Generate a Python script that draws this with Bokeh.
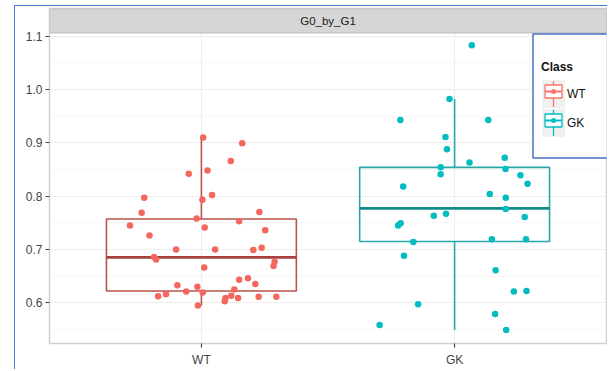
from bokeh.plotting import figure
from bokeh.models import Range1d, FixedTicker, PrintfTickFormatter
from bokeh.core.properties import value
from bokeh.embed import file_html
from bokeh.resources import INLINE

# ---------------- data ----------------
classes = ["WT", "GK"]
panel_title = "G0_by_G1"
legend_title = "Class"

wt_values = [0.910, 0.899, 0.866, 0.842, 0.848, 0.797, 0.802, 0.793, 0.769, 0.770,
             0.758, 0.753, 0.745, 0.741, 0.736, 0.726, 0.700, 0.700, 0.699, 0.703,
             0.686, 0.681, 0.677, 0.669, 0.666, 0.643, 0.646, 0.635, 0.633, 0.630,
             0.625, 0.621, 0.619, 0.616, 0.612, 0.613, 0.609, 0.603, 0.609, 0.611,
             0.611, 0.595]
wt_jitter = [0.007, 0.161, 0.116, -0.050, 0.024, -0.226, 0.042, 0.004, -0.236, 0.229,
             -0.019, 0.149, -0.282, 0.013, 0.252, -0.205, -0.100, 0.054, 0.205, 0.238,
             -0.187, -0.179, 0.289, 0.285, 0.011, 0.149, 0.184, 0.213, -0.095, -0.016,
             0.130, -0.060, 0.005, -0.140, -0.171, 0.118, 0.095, 0.092, 0.145, 0.226,
             0.296, -0.014]

gk_values = [1.083, 0.982, 0.943, 0.943, 0.911, 0.888, 0.872, 0.863, 0.854, 0.841,
             0.851, 0.839, 0.823, 0.818, 0.804, 0.797, 0.776, 0.767, 0.763, 0.761,
             0.749, 0.745, 0.714, 0.719, 0.719, 0.688, 0.661, 0.621, 0.622, 0.597,
             0.579, 0.558, 0.549]
gk_jitter = [0.068, -0.020, -0.214, 0.133, -0.036, -0.030, 0.198, 0.059, -0.055, -0.055,
             0.201, 0.260, 0.288, -0.203, 0.139, 0.202, 0.202, -0.034, -0.082, 0.277,
             -0.213, -0.223, -0.163, 0.147, 0.282, -0.200, 0.162, 0.234, 0.284, -0.144,
             0.160, -0.296, 0.204]

box_lower = [0.595, 0.549]
box_q1 = [0.622, 0.715]
box_median = [0.685, 0.777]
box_q3 = [0.757, 0.854]
box_upper = [0.910, 0.982]

y_ticks = [0.6, 0.7, 0.8, 0.9, 1.0, 1.1]
y_minor = [0.55, 0.65, 0.75, 0.85, 0.95, 1.05]

# ---------------- style ----------------
FONT = "Liberation Sans"
point_colors = {"WT": "#F4675F", "GK": "#05BCC1"}
key_colors = {"WT": "#F8766D", "GK": "#00BFC4"}
box_colors = {"WT": "#B8534E", "GK": "#2AA7A8"}
median_colors = {"WT": "#A8423E", "GK": "#118A8B"}
FRAME_BLUE = "#4A7CC9"

# canvas origin on the page (after css margin + border)
OX, OY = 15.5, 6.5
W, H = 593, 364
X_LO, X_HI = 0.4, 2.6
Y_BOT, Y_PANEL_TOP, Y_TOP = 0.5235, 1.1065, 1.152
FRAME_L, FRAME_T, FRAME_W, FRAME_H = 34, 2, 557, 335

p = figure(width=W, height=H, output_backend="svg", toolbar_location=None,
           x_range=Range1d(X_LO, X_HI), y_range=Range1d(Y_BOT, Y_TOP),
           min_border_left=FRAME_L, min_border_right=W - FRAME_L - FRAME_W,
           min_border_top=FRAME_T, min_border_bottom=H - FRAME_T - FRAME_H)
p.styles = {"margin-left": "14px", "margin-top": "5px",
            "border-left": "1.5px solid " + FRAME_BLUE,
            "border-top": "1.5px solid " + FRAME_BLUE}
p.background_fill_color = "white"
p.border_fill_color = "white"
p.outline_line_color = "#CFCFCF"
p.outline_line_width = 1.5

# helpers: page pixel -> data (used only for legend layout)
PX_X = FRAME_W / (X_HI - X_LO)
PX_Y = FRAME_H / (Y_TOP - Y_BOT)
def dx(px):
    return X_LO + (px - OX - FRAME_L) / PX_X
def dy(py):
    return Y_TOP - (py - OY - FRAME_T) / PX_Y

# axes
p.yaxis.ticker = FixedTicker(ticks=y_ticks, minor_ticks=y_minor)
p.yaxis.formatter = PrintfTickFormatter(format="%.1f")
p.xaxis.ticker = FixedTicker(ticks=[i + 1 for i in range(len(classes))])
p.xaxis.major_label_overrides = {i + 1: c for i, c in enumerate(classes)}
for ax in (p.xaxis, p.yaxis):
    ax.axis_line_color = None
    ax.major_tick_line_color = "#444444"
    ax.major_tick_line_width = 1.2
    ax.major_tick_out = 4
    ax.major_tick_in = 0
    ax.minor_tick_out = 0
    ax.minor_tick_in = 0
    ax.major_label_text_font = FONT
    ax.major_label_text_font_size = "12px"
    ax.major_label_text_color = "#444444"
    ax.major_label_standoff = 3
p.xaxis.major_label_standoff = 5

p.ygrid.grid_line_color = "#EDEDED"
p.ygrid.grid_line_width = 1
p.ygrid.minor_grid_line_color = "#F6F6F6"
p.ygrid.minor_grid_line_width = 1
p.xgrid.grid_line_color = "#EDEDED"

# strip
p.quad(left=[X_LO], right=[X_HI], bottom=[Y_PANEL_TOP], top=[Y_TOP],
       fill_color="#D6D6D6", line_color="#C4C4C4", line_width=1.5)
p.text(x=[(X_LO + X_HI) / 2], y=[(Y_PANEL_TOP + Y_TOP) / 2], text=[panel_title],
       text_font=value(FONT), text_font_size="11.5px", text_color="#1A1A1A",
       text_align="center", text_baseline="middle")

# boxplots
HALF = 0.375
for i, c in enumerate(classes):
    xc = i + 1
    p.segment(x0=[xc, xc], y0=[box_q3[i], box_q1[i]], x1=[xc, xc], y1=[box_upper[i], box_lower[i]],
              line_color=box_colors[c], line_width=1.6)
    p.quad(left=[xc - HALF], right=[xc + HALF], bottom=[box_q1[i]], top=[box_q3[i]],
           fill_color=None, line_color=box_colors[c], line_width=1.6)
    p.segment(x0=[xc - HALF], x1=[xc + HALF], y0=[box_median[i]], y1=[box_median[i]],
              line_color=median_colors[c], line_width=2.8)

# jittered points
for i, (c, vals, jit) in enumerate(zip(classes, [wt_values, gk_values], [wt_jitter, gk_jitter])):
    p.scatter(x=[i + 1 + j for j in jit], y=vals, size=6.5,
              fill_color=point_colors[c], line_color=None)

# legend (drawn manually, ggplot style)
p.quad(left=[dx(533)], right=[dx(608)], top=[dy(34)], bottom=[dy(158)],
       fill_color="white", line_color="#4472C4", line_width=1.5)
p.text(x=[dx(541)], y=[dy(67)], text=[legend_title], text_font=value(FONT),
       text_font_size="12px", text_font_style="bold", text_color="#111111",
       text_baseline="middle")
for i, c in enumerate(classes):
    y0 = 80 + i * 29
    p.quad(left=[dx(542)], right=[dx(565)], top=[dy(y0)], bottom=[dy(y0 + 28)],
           fill_color="#F0F0F0", line_color=None)
    xm = dx(553.5)
    p.segment(x0=[xm, xm], x1=[xm, xm], y0=[dy(y0 + 1), dy(y0 + 18)], y1=[dy(y0 + 5), dy(y0 + 27)],
              line_color=key_colors[c], line_width=1.3)
    p.quad(left=[dx(545)], right=[dx(562)], top=[dy(y0 + 5)], bottom=[dy(y0 + 18)],
           fill_color="white", line_color=key_colors[c], line_width=1.3)
    p.segment(x0=[dx(545)], x1=[dx(562)], y0=[dy(y0 + 11.5)], y1=[dy(y0 + 11.5)],
              line_color=key_colors[c], line_width=2)
    p.scatter(x=[xm], y=[dy(y0 + 11.5)], size=5, fill_color=key_colors[c], line_color=None)
    p.text(x=[dx(567)], y=[dy(y0 + 14)], text=[c], text_font=value(FONT),
           text_font_size="12px", text_color="#111111", text_baseline="middle")

open("out.html", "w").write(file_html(p, INLINE))
